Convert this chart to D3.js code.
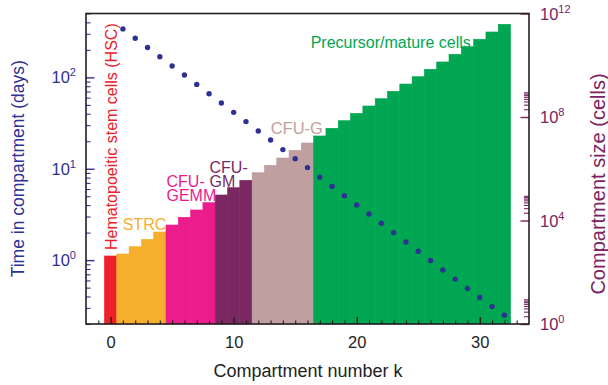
<!DOCTYPE html>
<html>
<head>
<meta charset="utf-8">
<script src="https://cdn.jsdelivr.net/npm/d3@7/dist/d3.min.js"></script>
<style>
  html, body { margin: 0; padding: 0; background: #fff; }
  svg { display: block; font-family: "Liberation Sans", Arial, Helvetica, sans-serif; }
</style>
</head>
<body>
<svg id="chart" width="608" height="385"></svg>
<script>
// ---- data ----
const compartmentK = [0,1,2,3,4,5,6,7,8,9,10,11,12,13,14,15,16,17,18,19,20,21,22,23,24,25,26,27,28,29,30,31,32];
const compartmentSize = [425, 507, 970, 1875, 3600, 6700, 13300, 25500, 48800, 96800,
  185000, 358000, 703000, 1.36e6, 2.60e6, 5.16e6, 9.89e6, 1.85e7, 3.66e7, 7.19e7,
  1.39e8, 2.66e8, 5.09e8, 9.84e8, 1.88e9, 3.60e9, 6.97e9, 1.34e10, 2.65e10, 5.20e10,
  1.01e11, 1.93e11, 3.83e11];
const timeK = [1,2,3,4,5,6,7,8,9,10,11,12,13,14,15,16,17,18,19,20,21,22,23,24,25,26,27,28,29,30,31,32];
const timeDays = [339, 268, 212, 168, 133, 106, 83.8, 66.2, 52.5, 41.4, 32.8, 25.9, 20.6, 16.2,
  12.9, 10.3, 8.09, 6.41, 5.08, 4.01, 3.20, 2.53, 2.00, 1.58, 1.25, 0.99, 0.78, 0.62, 0.49, 0.39, 0.31, 0.25];
const stageNames = ["HSC", "STRC", "CFU-GEMM", "CFU-GM", "CFU-G", "Precursor/mature cells"];
const stageFirstK = [0, 1, 5, 9, 12, 17];
const stageColors = ["#ed2129", "#f6ae2d", "#ec1c8c", "#7b2862", "#bf9fa0", "#00a651"];
const xTickValues = [0, 10, 20, 30];
const leftTickValues = [1, 10, 100];
const leftTickExp = ["0", "1", "2"];
const rightTickValues = [1, 1e4, 1e8, 1e12];
const rightTickExp = ["0", "4", "8", "12"];

// ---- layout ----
const L = 86, R = 529, T = 13.5, B = 324;
const navy = "#2e3192", plum = "#7b2360", ink = "#231f20";

const svg = d3.select("#chart");
const x = d3.scaleLinear().domain([-2, 34]).range([L, R]);
const yL = d3.scaleLog().domain([0.2, 500]).range([B, T]);
const yR = d3.scaleLog().domain([1, 1e12]).range([B, T]);

function stageOf(k) {
  let s = 0;
  for (let i = 0; i < stageFirstK.length; i++) if (k >= stageFirstK[i]) s = i;
  return s;
}

// bars
svg.append("g").selectAll("rect")
  .data(compartmentK.map((k, i) => ({k, n: compartmentSize[i]})))
  .join("rect")
  .attr("x", d => x(d.k - 0.5))
  .attr("width", d => x(d.k + 0.5) - x(d.k - 0.5))
  .attr("y", d => yR(d.n))
  .attr("height", d => B - yR(d.n))
  .attr("fill", d => stageColors[stageOf(d.k)])
  .attr("stroke", d => stageColors[stageOf(d.k)])
  .attr("stroke-width", 0.6);

// dots
svg.append("g").selectAll("circle")
  .data(timeK.map((k, i) => ({k, t: timeDays[i]})))
  .join("circle")
  .attr("cx", d => x(d.k))
  .attr("cy", d => yL(d.t))
  .attr("r", 2.7)
  .attr("fill", navy);

// x axis ticks
const xMinor = compartmentK.concat([-1, 33]).filter(v => xTickValues.indexOf(v) < 0);
svg.append("g").attr("transform", `translate(0,${B})`)
  .call(d3.axisBottom(x).tickValues(xMinor).tickSize(-3.5).tickFormat(""))
  .call(g => g.select(".domain").remove())
  .call(g => g.selectAll("line").attr("stroke", ink).attr("stroke-width", 1.1));
const xg = svg.append("g").attr("transform", `translate(0,${B})`)
  .call(d3.axisBottom(x).tickValues(xTickValues).tickSize(-7).tickFormat(d3.format("d")))
  .call(g => g.select(".domain").remove());
xg.selectAll("line").attr("stroke", ink).attr("stroke-width", 1.4);
xg.selectAll("text").attr("font-size", 16.5).attr("fill", ink).attr("y", 0).attr("dy", 24)
  .attr("font-family", "Liberation Sans, Arial, sans-serif");

// left axis
const leftMinor = [];
[0.1, 1, 10, 100].forEach(base => {
  for (let m = 2; m <= 9; m++) { const v = base * m; if (v >= 0.2 && v <= 500) leftMinor.push(v); }
});
svg.append("g").attr("transform", `translate(${L},0)`)
  .call(d3.axisLeft(yL).tickValues(leftMinor).tickSize(-4.5).tickFormat(""))
  .call(g => g.select(".domain").remove())
  .call(g => g.selectAll("line").attr("stroke", navy).attr("stroke-width", 1.1));
const lg = svg.append("g").attr("transform", `translate(${L},0)`)
  .call(d3.axisLeft(yL).tickValues(leftTickValues).tickSize(-8.5).tickFormat(""))
  .call(g => g.select(".domain").remove());
lg.selectAll("line").attr("stroke", navy).attr("stroke-width", 1.4);
const lLab = svg.append("g").selectAll("text").data(leftTickValues).join("text")
  .attr("y", d => yL(d) + 6)
  .attr("font-size", 16.5).attr("fill", navy);
lLab.append("tspan").attr("x", 51.5).text("10");
lLab.append("tspan").attr("font-size", 11).attr("dy", -7).text((d, i) => leftTickExp[i]);

// right axis
const rightMinor = [];
[1, 1e4, 1e8].forEach(base => { for (let m = 2; m <= 9; m++) rightMinor.push(base * m); });
svg.append("g").attr("transform", `translate(${R},0)`)
  .call(d3.axisRight(yR).tickValues(rightMinor).tickSize(-5).tickFormat(""))
  .call(g => g.select(".domain").remove())
  .call(g => g.selectAll("line").attr("stroke", plum).attr("stroke-width", 1.1));
const rg = svg.append("g").attr("transform", `translate(${R},0)`)
  .call(d3.axisRight(yR).tickValues(rightTickValues).tickSize(-8.5).tickFormat(""))
  .call(g => g.select(".domain").remove());
rg.selectAll("line").attr("stroke", plum).attr("stroke-width", 1.4);
const rLab = svg.append("g").selectAll("text").data(rightTickValues).join("text")
  .attr("y", d => yR(d) + 6)
  .attr("font-size", 16.5).attr("fill", plum);
rLab.append("tspan").attr("x", 540).text("10");
rLab.append("tspan").attr("font-size", 11).attr("dy", -7).text((d, i) => rightTickExp[i]);

// frame
svg.append("rect").attr("x", L).attr("y", T).attr("width", R - L).attr("height", B - T)
  .attr("fill", "none").attr("stroke", ink).attr("stroke-width", 1.6);

// axis titles
svg.append("text").attr("transform", `translate(${(L + R) / 2 + 0.5},377)`)
  .attr("text-anchor", "middle").attr("font-size", 18).attr("fill", ink)
  .text("Compartment number k");
svg.append("text").attr("transform", `translate(23.5,${(T + B) / 2}) rotate(-90)`)
  .attr("text-anchor", "middle").attr("font-size", 17.5).attr("fill", navy)
  .text("Time in compartment (days)");
svg.append("text").attr("transform", `translate(605,184) rotate(-90)`)
  .attr("text-anchor", "middle").attr("font-size", 20).attr("fill", plum)
  .text("Compartment size (cells)");

// stage annotations
const ann = svg.append("g").attr("font-size", 16);
ann.append("text").attr("transform", `translate(116.5,250) rotate(-90)`)
  .attr("fill", stageColors[0]).text("Hematopoeitic stem cells (" + stageNames[0] + ")");
ann.append("text").attr("x", 122.7).attr("y", 230).attr("fill", stageColors[1]).text(stageNames[1]);
const gemm = ann.append("text").attr("fill", stageColors[2]);
gemm.append("tspan").attr("x", 166.5).attr("y", 186.5).text("CFU-");
gemm.append("tspan").attr("x", 166.5).attr("y", 200.8).text("GEMM");
const gm = ann.append("text").attr("fill", stageColors[3]);
gm.append("tspan").attr("x", 209.5).attr("y", 172.5).text("CFU-");
gm.append("tspan").attr("x", 209.5).attr("y", 186.5).text("GM");
ann.append("text").attr("x", 270.7).attr("y", 133.5).attr("fill", stageColors[4])
  .attr("font-size", 16.5).text(stageNames[4]);
ann.append("text").attr("x", 310.7).attr("y", 47.5).attr("fill", stageColors[5]).text(stageNames[5]);
</script>
</body>
</html>
